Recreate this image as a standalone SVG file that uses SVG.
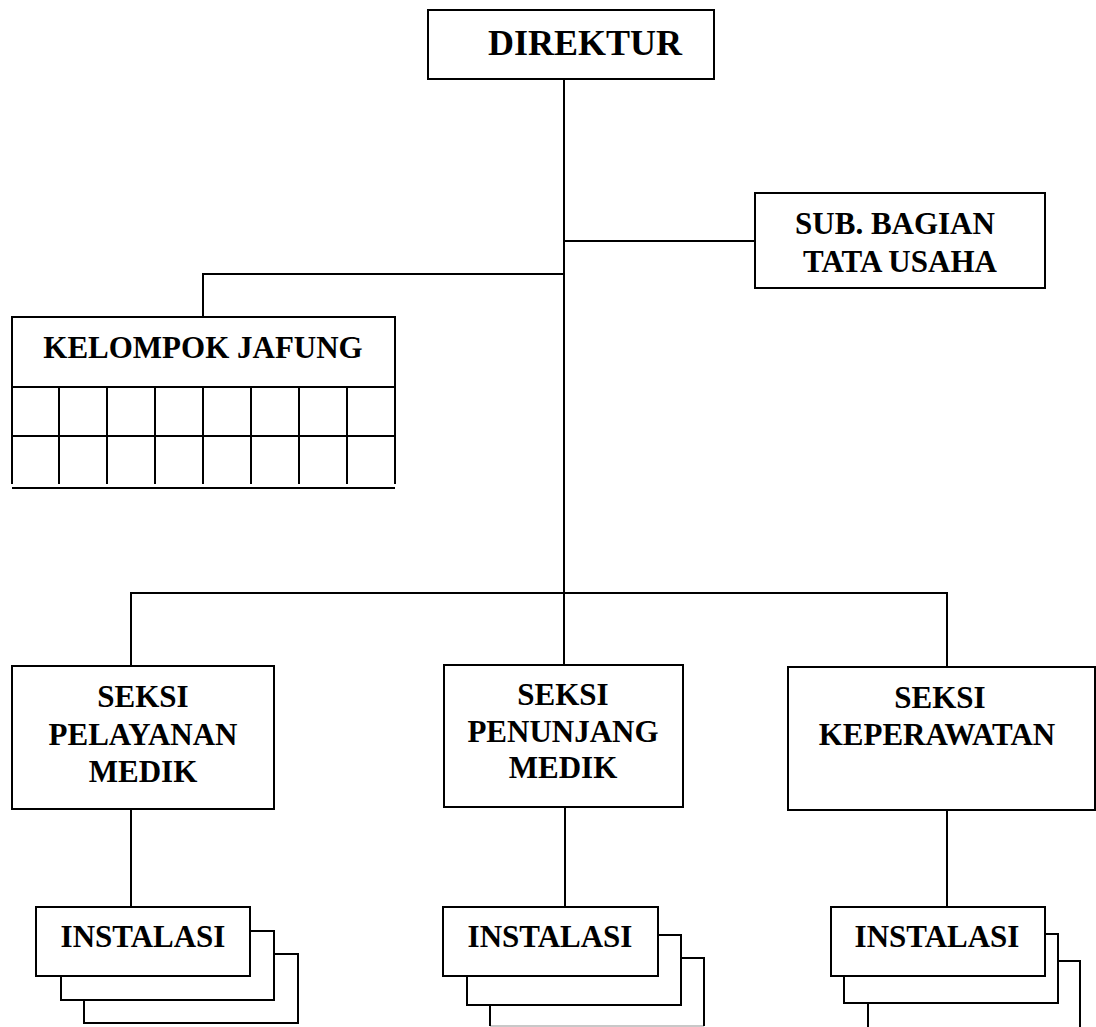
<svg xmlns="http://www.w3.org/2000/svg" width="1096" height="1027" viewBox="0 0 1096 1027">
<style>
.box{fill:#fff;stroke:#000;stroke-width:2}
.ln{fill:none;stroke:#000;stroke-width:2}
.t{font-family:"Liberation Serif","Times New Roman",serif;font-weight:bold;font-size:31px;text-anchor:middle;fill:#000}
.big{font-size:36px}
</style>
<rect width="1096" height="1027" fill="#fff"/>
<g id="connectors" class="ln">
<path d="M564 79V593"/>
<path d="M564 241H755"/>
<path d="M564 274H203V317"/>
<path d="M131 666V593H947V667"/>
<path d="M564 593V665"/>
<path d="M131 809V907"/>
<path d="M565 807V907"/>
<path d="M947 810V907"/>
</g>
<g id="direktur">
<rect class="box" x="428" y="10" width="286" height="69"/>
<text class="t big" x="585" y="55">DIREKTUR</text>
</g>
<g id="sub-bagian">
<rect class="box" x="755" y="193" width="290" height="95"/>
<text class="t" x="895" y="234">SUB. BAGIAN</text>
<text class="t" x="900" y="272">TATA USAHA</text>
</g>
<g id="kelompok-jafung">
<rect class="box" x="12" y="317" width="383" height="70"/>
<text class="t" x="203" y="358">KELOMPOK JAFUNG</text>
<g class="ln">
<path d="M12 365V484M395 365V484"/>
<path d="M59 387V484M107 387V484M155 387V484M203 387V484M251 387V484M299 387V484M347 387V484"/>
<path d="M12 436H395"/>
<path d="M12 488H395"/>
</g>
</g>
<g id="seksi-pelayanan">
<rect class="box" x="12" y="666" width="262" height="143"/>
<text class="t" x="143" y="707">SEKSI</text>
<text class="t" x="143" y="745">PELAYANAN</text>
<text class="t" x="143" y="782">MEDIK</text>
</g>
<g id="seksi-penunjang">
<rect class="box" x="444" y="665" width="239" height="142"/>
<text class="t" x="563" y="705">SEKSI</text>
<text class="t" x="563" y="742">PENUNJANG</text>
<text class="t" x="563" y="778">MEDIK</text>
</g>
<g id="seksi-keperawatan">
<rect class="box" x="788" y="667" width="307" height="143"/>
<text class="t" x="940" y="708">SEKSI</text>
<text class="t" x="937" y="745">KEPERAWATAN</text>
</g>
<g id="instalasi-1">
<rect class="box" x="84" y="954" width="214" height="69"/>
<rect class="box" x="61" y="931" width="213" height="69"/>
<rect class="box" x="36" y="907" width="214" height="69"/>
<text class="t" x="143" y="947">INSTALASI</text>
</g>
<g id="instalasi-2">
<path d="M490 1026H704" style="fill:none;stroke:#c8c8c8;stroke-width:2"/>
<path class="ln" d="M490 1026V958H704V1026"/>
<rect class="box" x="467" y="935" width="214" height="70"/>
<rect class="box" x="443" y="907" width="215" height="69"/>
<text class="t" x="550" y="947">INSTALASI</text>
</g>
<g id="instalasi-3">
<rect class="box" x="868" y="961" width="212" height="80"/>
<rect class="box" x="844" y="934" width="214" height="69"/>
<rect class="box" x="831" y="907" width="214" height="69"/>
<text class="t" x="937" y="947">INSTALASI</text>
</g>
</svg>
